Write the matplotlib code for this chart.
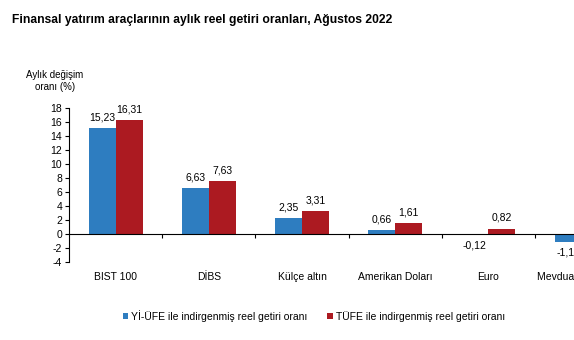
import numpy as np
import matplotlib.pyplot as plt

categories = ["BIST 100", "DİBS", "Külçe altın", "Amerikan Doları", "Euro", "Mevduat faizi (brüt)"]
yiufe = [15.23, 6.63, 2.35, 0.66, -0.12, -1.13]
tufe = [16.31, 7.63, 3.31, 1.61, 0.82, -0.15]
labels_yiufe = ["15,23", "6,63", "2,35", "0,66", "-0,12", "-1,13"]
labels_tufe = ["16,31", "7,63", "3,31", "1,61", "0,82", "-0,15"]
series_names = ["Yİ-ÜFE ile indirgenmiş reel getiri oranı", "TÜFE ile indirgenmiş reel getiri oranı"]

blue = "#2E7DC0"
red = "#AC1A21"
plt.rcParams['font.family'] = ['Liberation Sans', 'DejaVu Sans']
plt.rcParams['axes.unicode_minus'] = False

fig = plt.figure(figsize=(5.74, 3.4), dpi=100)
W, H = 574, 340
# the original is cropped on the right, so the axes run past the figure edge
ax = fig.add_axes([69 / W, (H - 262.3) / H, 6 * 93.2 / W, (262.3 - 108.3) / H])

x = np.arange(len(categories))
w = 0.29
b1 = ax.bar(x - w / 2, yiufe, w, color=blue, label=series_names[0])
b2 = ax.bar(x + w / 2, tufe, w, color=red, label=series_names[1])

for xi, v, s in zip(x, yiufe, labels_yiufe):
    off = 0.8 if v >= 0 else -0.8
    ax.text(xi - w / 2, v + off, s, ha="center", va="bottom" if v >= 0 else "top", fontsize=7.5)
for xi, v, s in zip(x, tufe, labels_tufe):
    off = 0.8 if v >= 0 else -0.8
    ax.text(xi + w / 2, v + off, s, ha="center", va="bottom" if v >= 0 else "top", fontsize=7.5)

ax.set_xlim(-0.5, len(categories) - 0.5)
ax.set_ylim(-4, 18)
ax.set_yticks(np.arange(-4, 19, 2))
ax.tick_params(axis="y", labelsize=7.5, length=3, width=0.8, pad=2)

ax.spines["top"].set_visible(False)
ax.spines["right"].set_visible(False)
ax.spines["bottom"].set_position(("data", 0))
ax.set_xticks(np.arange(0.5, len(categories) - 0.5, 1))
ax.set_xticklabels([])
ax.tick_params(axis="x", length=3, width=0.8)

for xi, c in zip(x, categories):
    ax.text(xi, -0.065, c, transform=ax.get_xaxis_transform(), ha="center", va="top", fontsize=7.5)

fig.text(12 / W, 1 - 20 / H, "Finansal yatırım araçlarının aylık reel getiri oranları, Ağustos 2022",
         fontsize=8.75, fontweight="bold", va="center")
fig.text(55 / W, 1 - 81 / H, "Aylık değişim\noranı (%)", fontsize=7, ha="center", va="center",
         linespacing=1.15)

fig.legend(handles=[b1, b2], loc="center", bbox_to_anchor=(314 / W, 1 - 316 / H), ncol=2,
           frameon=False, fontsize=7.5, handlelength=0.5, handleheight=0.5, handletextpad=0.3,
           columnspacing=1.9)

fig.savefig("out.png", dpi=100)
